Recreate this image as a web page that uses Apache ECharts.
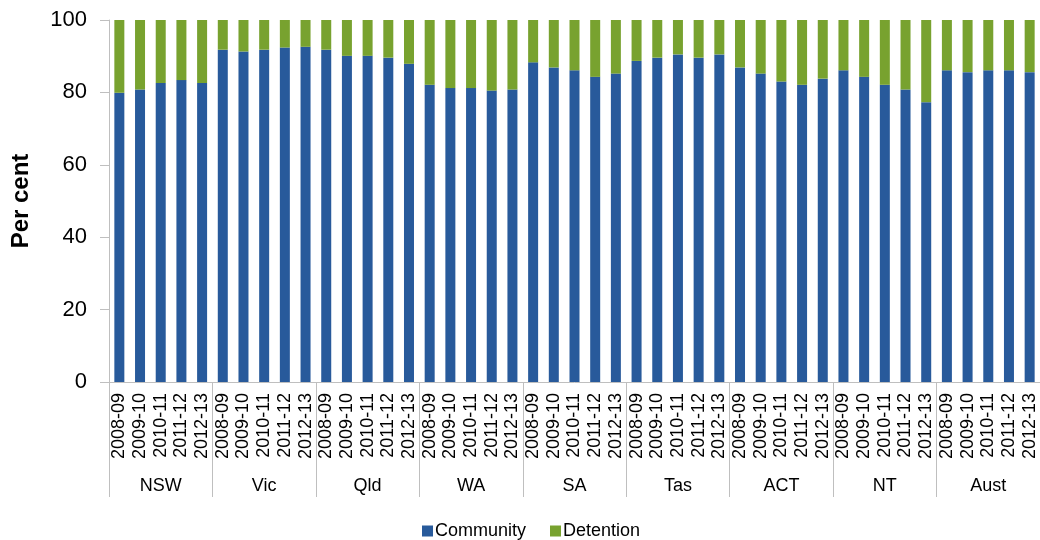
<!DOCTYPE html>
<html>
<head>
<meta charset="utf-8">
<script src="https://cdn.jsdelivr.net/npm/echarts@6/dist/echarts.min.js"></script>
<style>
  html, body { margin: 0; padding: 0; background: #fff; }
  #chart { width: 1040px; height: 540px; }
</style>
</head>
<body>
<div id="chart"></div>
<script>
// Jurisdictions and financial years
const states = ['NSW', 'Vic', 'Qld', 'WA', 'SA', 'Tas', 'ACT', 'NT', 'Aust'];
const years = ['2008-09', '2009-10', '2010-11', '2011-12', '2012-13'];

// Share of young people under supervision (per cent), one row of five years per jurisdiction
const community = [
  79.9, 80.8, 82.6, 83.4, 82.6,   // NSW
  91.8, 91.3, 91.8, 92.4, 92.6,   // Vic
  91.8, 90.1, 90.1, 89.6, 87.9,   // Qld
  82.1, 81.2, 81.2, 80.5, 80.8,   // WA
  88.3, 86.9, 86.1, 84.3, 85.2,   // SA
  88.7, 89.6, 90.5, 89.6, 90.5,   // Tas
  86.9, 85.2, 83.0, 82.1, 83.8,   // ACT
  86.1, 84.3, 82.1, 80.8, 77.3,   // NT
  86.1, 85.6, 86.1, 86.1, 85.6    // Aust
];
const detention = [
  20.1, 19.2, 17.4, 16.6, 17.4,
  8.2, 8.7, 8.2, 7.6, 7.4,
  8.2, 9.9, 9.9, 10.4, 12.1,
  17.9, 18.8, 18.8, 19.5, 19.2,
  11.7, 13.1, 13.9, 15.7, 14.8,
  11.3, 10.4, 9.5, 10.4, 9.5,
  13.1, 14.8, 17.0, 17.9, 16.2,
  13.9, 15.7, 17.9, 19.2, 22.7,
  13.9, 14.4, 13.9, 13.9, 14.4
];
const yTicks = { min: 0, max: 100, step: 20 };

// Unique keys for the inner (year) axis: "state|year"
const yearKeys = [];
states.forEach(s => years.forEach(y => yearKeys.push(s + '|' + y)));

const FONT = '"Liberation Sans", Arial, sans-serif';
const AXIS_GREY = '#bfbfbf';

const chart = echarts.init(document.getElementById('chart'));
chart.setOption({
  animation: false,
  textStyle: { fontFamily: FONT },
  grid: { left: 109, right: -3, top: 20, bottom: 158, containLabel: false },
  legend: {
    left: 417,
    top: 517,
    itemWidth: 11,
    itemHeight: 11,
    itemGap: 24,
    icon: 'rect',
    textStyle: { fontSize: 18, color: '#000', fontFamily: FONT, padding: [0, 0, 0, -3] },
    data: ['Community', 'Detention']
  },
  xAxis: [
    {
      type: 'category',
      data: yearKeys,
      position: 'bottom',
      axisLine: { show: true, lineStyle: { color: AXIS_GREY, width: 1 } },
      axisTick: { show: false },
      axisLabel: {
        interval: 0,
        rotate: 90,
        margin: 11,
        fontSize: 18,
        color: '#000',
        fontFamily: FONT,
        formatter: v => v.split('|')[1]
      }
    },
    {
      type: 'category',
      data: states,
      position: 'bottom',
      axisLine: { show: false },
      axisTick: {
        show: true,
        interval: 0,
        length: 115,
        lineStyle: { color: AXIS_GREY, width: 1 }
      },
      axisLabel: {
        interval: 0,
        margin: 95,
        fontSize: 18,
        color: '#000',
        fontFamily: FONT
      }
    }
  ],
  yAxis: {
    type: 'value',
    min: yTicks.min,
    max: yTicks.max,
    interval: yTicks.step,
    name: 'Per cent',
    nameLocation: 'middle',
    nameRotate: 90,
    nameGap: 76,
    nameTextStyle: { fontSize: 24, fontWeight: 'bold', color: '#000', fontFamily: FONT },
    axisLine: { show: true, lineStyle: { color: AXIS_GREY, width: 1 } },
    axisTick: { show: true, length: 9, lineStyle: { color: AXIS_GREY } },
    axisLabel: { margin: 22, fontSize: 22, color: '#000', fontFamily: FONT },
    splitLine: { show: false }
  },
  series: [
    {
      name: 'Community',
      type: 'bar',
      stack: 'total',
      xAxisIndex: 0,
      barWidth: 10,
      itemStyle: { color: '#285a9b' },
      data: community
    },
    {
      name: 'Detention',
      type: 'bar',
      stack: 'total',
      xAxisIndex: 0,
      barWidth: 10,
      itemStyle: { color: '#78a22f' },
      data: detention
    }
  ]
});
</script>
</body>
</html>
